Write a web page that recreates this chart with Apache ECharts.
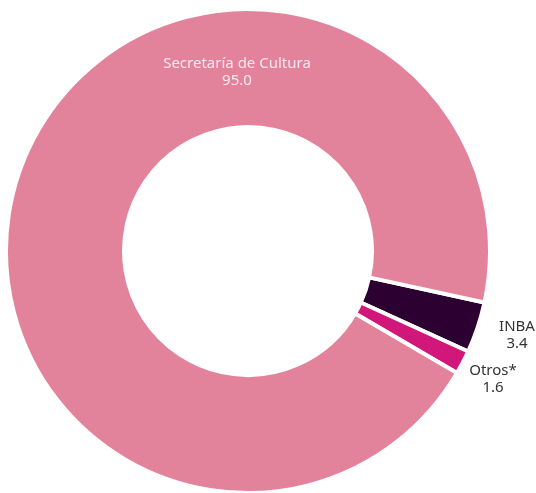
<!DOCTYPE html>
<html><head><meta charset="utf-8">
<script src="https://cdn.jsdelivr.net/npm/echarts@6/dist/echarts.min.js"></script>
<style>html,body{margin:0;padding:0;background:#fff}#c{width:536px;height:493px}</style>
</head><body><div id="c"></div>
<script>
var categories = ['INBA', 'Otros*', 'Secretaría de Cultura'];
var values = [3.4, 1.6, 95.0];
var colors = ['#2C0030', '#D1177A', '#E2839B'];

var chart = echarts.init(document.getElementById('c'), null, {renderer: 'canvas'});
var labelPos = [
  {x: 517, y: 335, color: '#333333'},
  {x: 493, y: 379, color: '#333333'},
  {x: 237, y: 72, color: '#FBE9EE'}
];
chart.setOption({
  animation: false,
  series: [{
    type: 'pie',
    center: [248, 251],
    radius: [124, 242],
    startAngle: -12.3,
    clockwise: true,
    avoidLabelOverlap: false,
    itemStyle: {borderColor: '#ffffff', borderWidth: 4},
    label: {
      show: true,
      position: 'outside',
      formatter: function (p) { return p.name + '\n' + p.value.toFixed(1); },
      fontFamily: 'Noto Sans',
      fontSize: 15,
      lineHeight: 17,
      align: 'center'
    },
    labelLine: {show: false},
    labelLayout: function (p) {
      var l = labelPos[p.dataIndex];
      return {x: l.x, y: l.y, align: 'center', verticalAlign: 'middle'};
    },
    data: categories.map(function (c, i) {
      return {
        name: c, value: values[i],
        itemStyle: {color: colors[i]},
        label: {color: labelPos[i].color}
      };
    })
  }]
});
</script></body></html>
